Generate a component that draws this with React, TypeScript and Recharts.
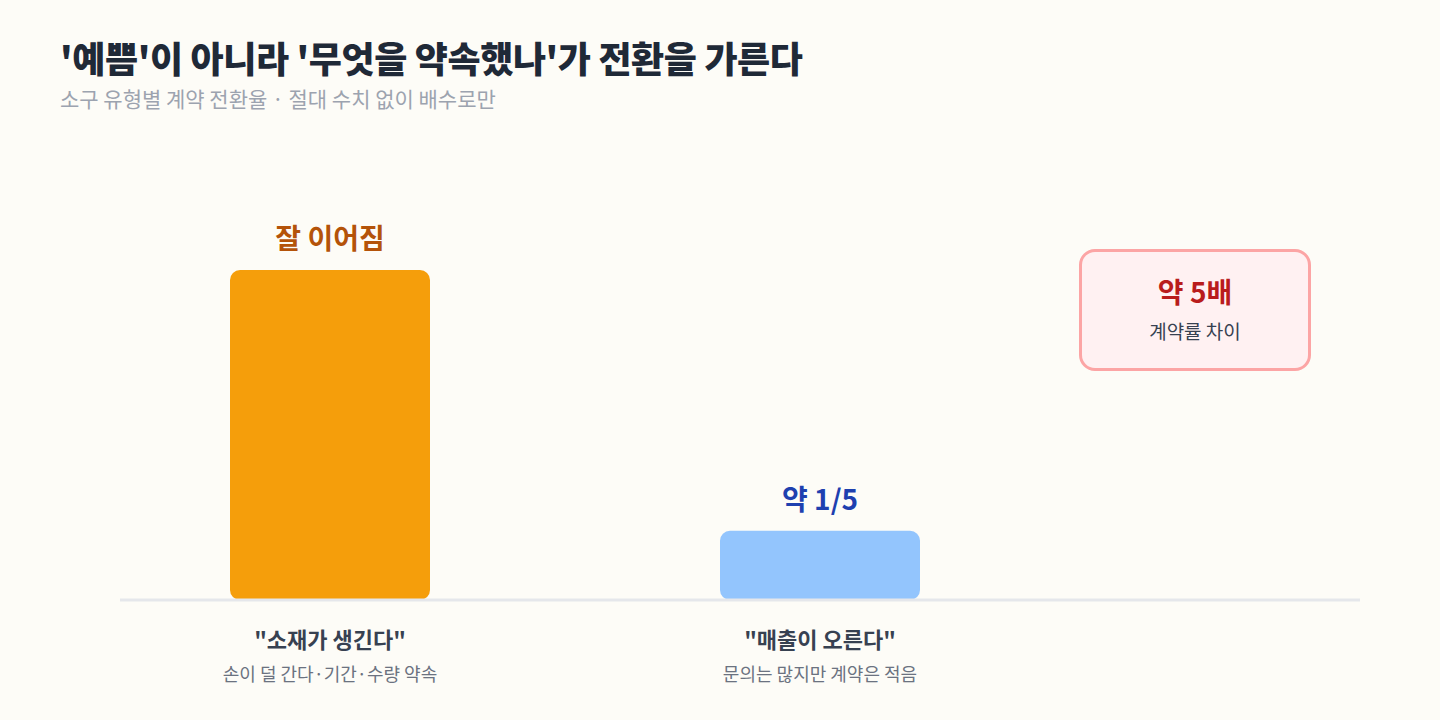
import React from "react";
import { BarChart, Bar, XAxis, YAxis, Cell, LabelList } from "recharts";

const categories = ['"소재가 생긴다"', '"매출이 오른다"'];
const subLabels = ["손이 덜 간다·기간·수량 약속", "문의는 많지만 계약은 적음"];
const values = [100, 21];
const topLabels = ["잘 이어짐", "약 1/5"];
const barColors = ["#F59E0B", "#93C5FD"];
const labelColors = ["#B45309", "#1E40AF"];

const data = categories.map((c, i) => ({
  name: c,
  sub: subLabels[i],
  value: values[i],
  top: topLabels[i],
}));

const FONT = '"Noto Sans CJK KR", "Noto Sans", sans-serif';

const CategoryTick = (props: any) => {
  const { x, y, index } = props;
  return (
    <g>
      <text x={x} y={y + 40} textAnchor="middle" fontFamily={FONT} fontSize={22} fontWeight={700} fill="#374151">
        {categories[index]}
      </text>
      <text x={x} y={y + 73} textAnchor="middle" fontFamily={FONT} fontSize={18} fill="#6B7280">
        {subLabels[index]}
      </text>
    </g>
  );
};

const TopLabel = (props: any) => {
  const { x, y, width, index } = props;
  return (
    <text x={x + width / 2} y={y - 21} textAnchor="middle" fontFamily={FONT} fontSize={28} fontWeight={700} fill={labelColors[index]}>
      {topLabels[index]}
    </text>
  );
};

export default function App() {
  return (
    <div style={{ position: "absolute", left: 0, top: 0, width: 1440, height: 720, background: "#FDFCF7", fontFamily: FONT, overflow: "hidden" }}>
      <div style={{ position: "absolute", left: 60, top: 31, fontSize: 36, fontWeight: 900, color: "#1F2937", lineHeight: "52px", letterSpacing: -0.4 }}>
        '예쁨'이 아니라 '무엇을 약속했나'가 전환을 가른다
      </div>
      <div style={{ position: "absolute", left: 60, top: 84, fontSize: 21, color: "#9CA3AF", lineHeight: "28px" }}>
        소구 유형별 계약 전환율 · 절대 수치 없이 배수로만
      </div>
      <BarChart
        width={1440}
        height={720}
        data={data}
        margin={{ top: 270, right: 80, bottom: 0, left: 120 }}
        style={{ position: "absolute", left: 0, top: 0 }}
      >
        <XAxis
          dataKey="name"
          padding={{ left: -35, right: 295 }}
          axisLine={{ stroke: "#E5E7EB", strokeWidth: 3 }}
          tickLine={false}
          tick={<CategoryTick />}
          interval={0}
          height={120}
        />
        <YAxis hide domain={[0, 100]} />
        <Bar dataKey="value" barSize={200} radius={[10, 10, 10, 10]} isAnimationActive={false}>
          {data.map((d, i) => (
            <Cell key={d.name} fill={barColors[i]} />
          ))}
          <LabelList dataKey="top" content={<TopLabel />} />
        </Bar>
      </BarChart>
      <div
        style={{
          position: "absolute",
          left: 1079,
          top: 249,
          width: 226,
          height: 116,
          border: "3px solid #FCA5A5",
          borderRadius: 16,
          background: "#FFF1F2",
          textAlign: "center",
        }}
      >
        <div style={{ marginTop: 20, fontSize: 28, fontWeight: 700, color: "#B91C1C", lineHeight: "38px" }}>약 5배</div>
        <div style={{ marginTop: 8, fontSize: 19, color: "#374151", lineHeight: "26px" }}>계약률 차이</div>
      </div>
    </div>
  );
}
